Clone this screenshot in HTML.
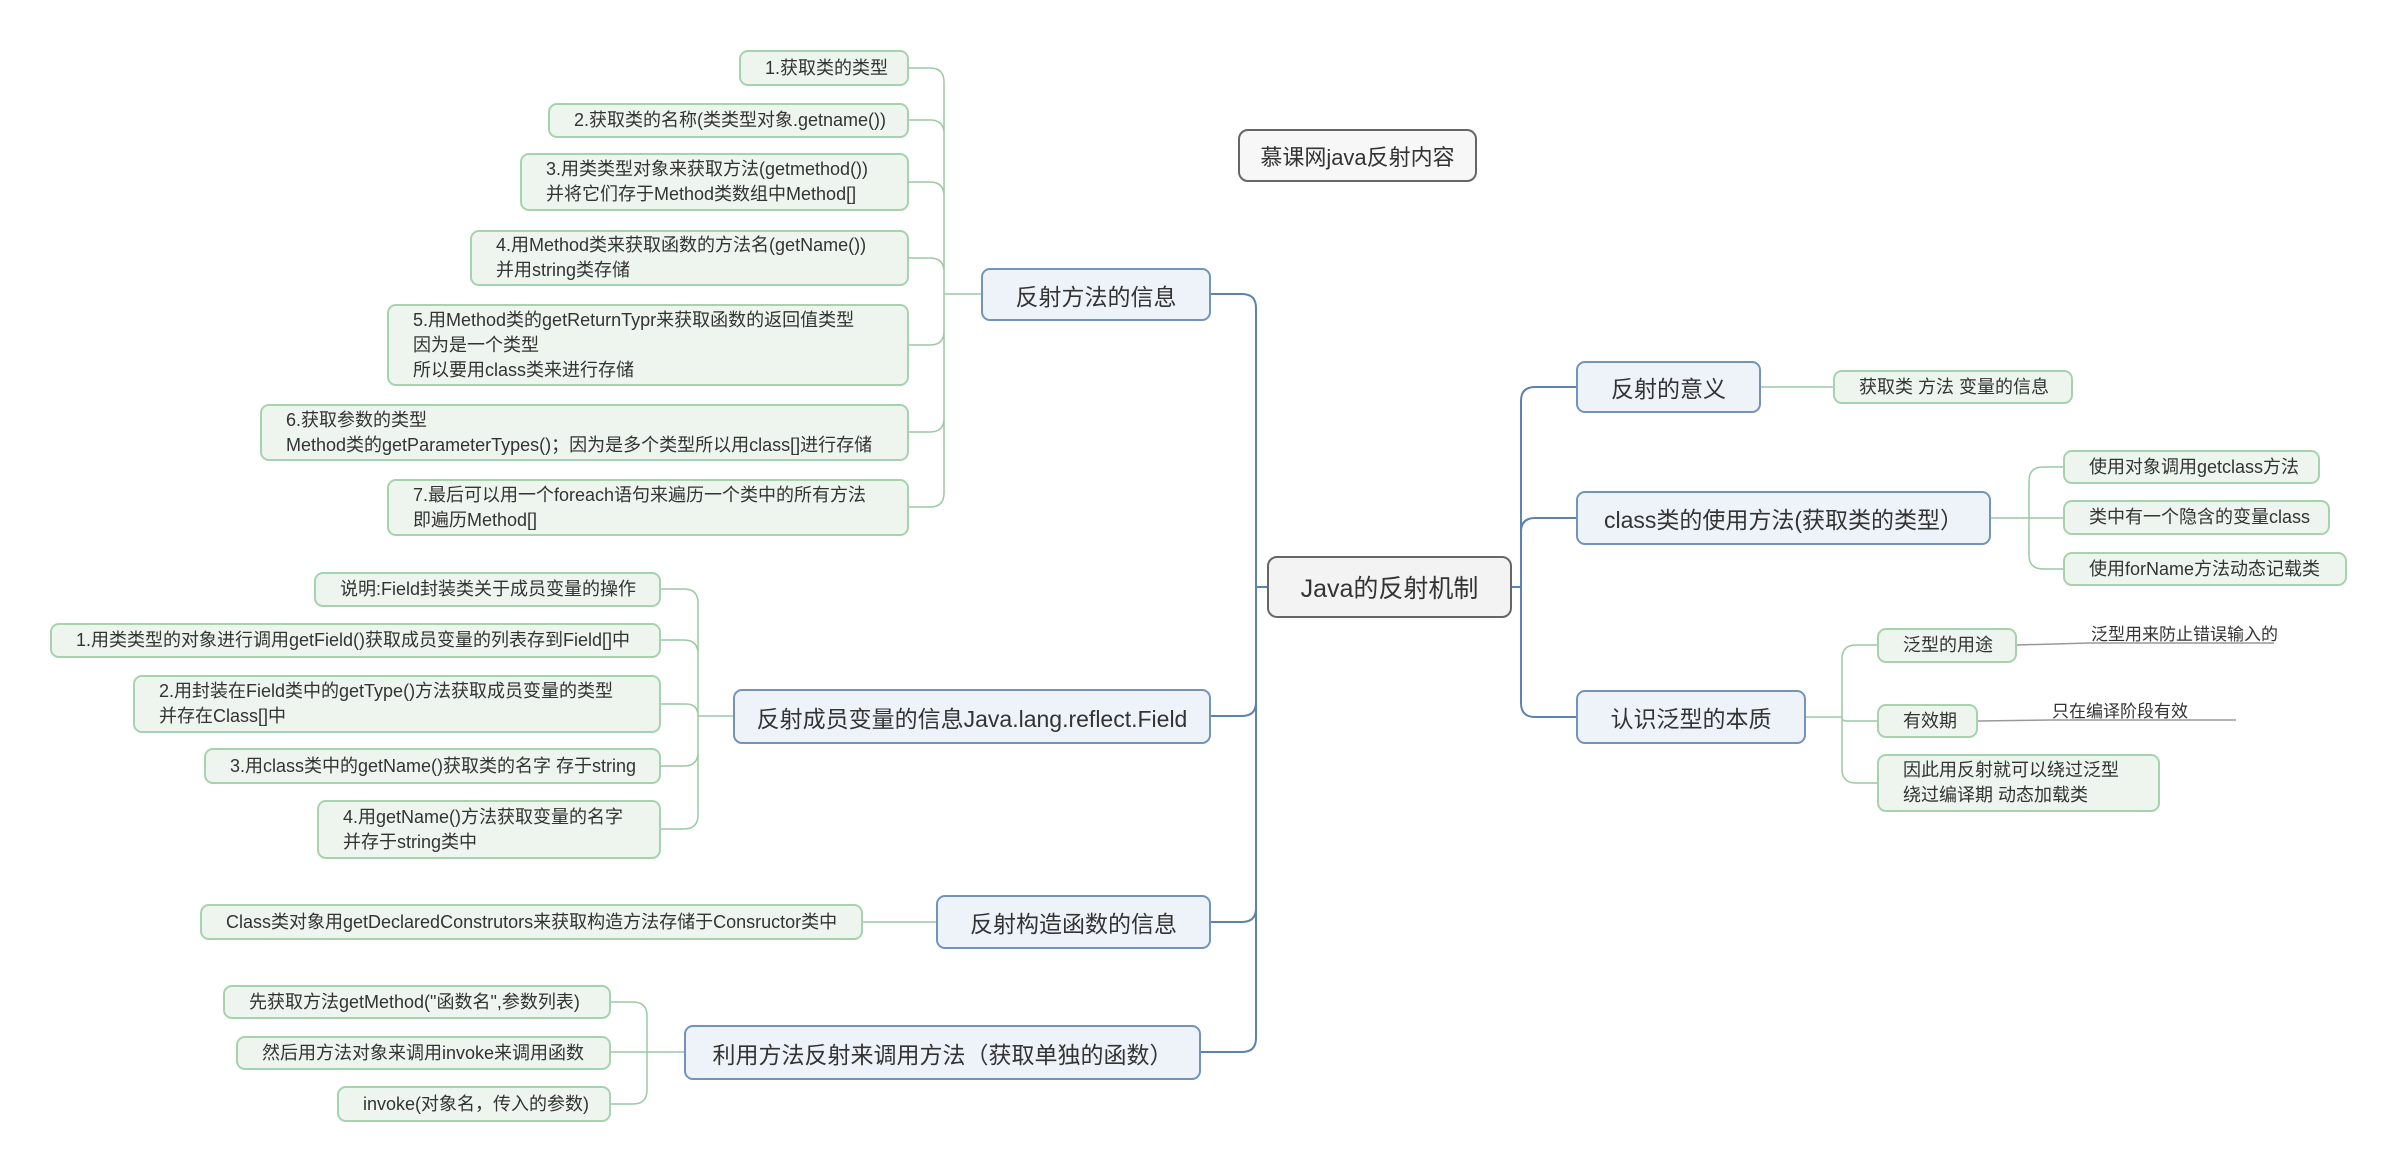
<!DOCTYPE html>
<html><head><meta charset="utf-8">
<style>
body{margin:0;width:2400px;height:1173px;background:#fff;position:relative;overflow:hidden;font-family:"Liberation Sans","Noto Sans CJK SC",sans-serif;color:#333}
.n{position:absolute;box-sizing:border-box;display:flex;flex-direction:column;justify-content:center;white-space:nowrap}
.leaf{background:#edf5ee;border:2px solid #a6d3ae;border-radius:9px;font-size:18px;line-height:25px;padding-left:24px}
.main{background:#eef3fa;border:2px solid #7393bb;border-radius:9px;font-size:23px;align-items:center}
.root{background:#f3f3f3;border:2px solid #666;border-radius:10px;font-size:25px;align-items:center}
.lab{position:absolute;font-size:17px;white-space:nowrap}
svg{position:absolute;left:0;top:0}
</style></head><body>
<svg id="s" width="2400" height="1173"></svg>

<div class="n root" style="left:1267px;top:556px;width:245px;height:62px">Java的反射机制</div>
<div class="n root" style="left:1238px;top:129px;width:239px;height:53px;font-size:22px;background:#f7f7f7">慕课网java反射内容</div>

<div class="n main" style="left:981px;top:268px;width:230px;height:53px">反射方法的信息</div>
<div class="n main" style="left:733px;top:689px;width:478px;height:55px">反射成员变量的信息Java.lang.reflect.Field</div>
<div class="n main" style="left:936px;top:895px;width:275px;height:54px">反射构造函数的信息</div>
<div class="n main" style="left:684px;top:1025px;width:517px;height:55px">利用方法反射来调用方法（获取单独的函数）</div>

<div class="n leaf" style="left:739px;top:50px;width:170px;height:36px">1.获取类的类型</div>
<div class="n leaf" style="left:548px;top:103px;width:361px;height:35px">2.获取类的名称(类类型对象.getname())</div>
<div class="n leaf" style="left:520px;top:153px;width:389px;height:58px">3.用类类型对象来获取方法(getmethod())<br>并将它们存于Method类数组中Method[]</div>
<div class="n leaf" style="left:470px;top:230px;width:439px;height:56px">4.用Method类来获取函数的方法名(getName())<br>并用string类存储</div>
<div class="n leaf" style="left:387px;top:304px;width:522px;height:82px">5.用Method类的getReturnTypr来获取函数的返回值类型<br>因为是一个类型<br>所以要用class类来进行存储</div>
<div class="n leaf" style="left:260px;top:404px;width:649px;height:57px">6.获取参数的类型<br>Method类的getParameterTypes()；因为是多个类型所以用class[]进行存储</div>
<div class="n leaf" style="left:387px;top:479px;width:522px;height:57px">7.最后可以用一个foreach语句来遍历一个类中的所有方法<br>即遍历Method[]</div>

<div class="n leaf" style="left:314px;top:572px;width:347px;height:35px">说明:Field封装类关于成员变量的操作</div>
<div class="n leaf" style="left:50px;top:623px;width:611px;height:35px">1.用类类型的对象进行调用getField()获取成员变量的列表存到Field[]中</div>
<div class="n leaf" style="left:133px;top:675px;width:528px;height:58px">2.用封装在Field类中的getType()方法获取成员变量的类型<br>并存在Class[]中</div>
<div class="n leaf" style="left:204px;top:748px;width:457px;height:36px">3.用class类中的getName()获取类的名字 存于string</div>
<div class="n leaf" style="left:317px;top:800px;width:344px;height:59px">4.用getName()方法获取变量的名字<br>并存于string类中</div>

<div class="n leaf" style="left:200px;top:904px;width:663px;height:36px">Class类对象用getDeclaredConstrutors来获取构造方法存储于Consructor类中</div>

<div class="n leaf" style="left:223px;top:985px;width:388px;height:34px">先获取方法getMethod("函数名",参数列表)</div>
<div class="n leaf" style="left:236px;top:1036px;width:375px;height:34px">然后用方法对象来调用invoke来调用函数</div>
<div class="n leaf" style="left:337px;top:1086px;width:274px;height:36px">invoke(对象名，传入的参数)</div>

<div class="n main" style="left:1576px;top:361px;width:185px;height:52px">反射的意义</div>
<div class="n main" style="left:1576px;top:491px;width:415px;height:54px">class类的使用方法(获取类的类型）</div>
<div class="n main" style="left:1576px;top:690px;width:230px;height:54px">认识泛型的本质</div>

<div class="n leaf" style="left:1833px;top:370px;width:240px;height:34px">获取类 方法 变量的信息</div>
<div class="n leaf" style="left:2063px;top:450px;width:257px;height:34px">使用对象调用getclass方法</div>
<div class="n leaf" style="left:2063px;top:500px;width:267px;height:35px">类中有一个隐含的变量class</div>
<div class="n leaf" style="left:2063px;top:552px;width:284px;height:34px">使用forName方法动态记载类</div>
<div class="n leaf" style="left:1877px;top:628px;width:140px;height:35px">泛型的用途</div>
<div class="n leaf" style="left:1877px;top:704px;width:101px;height:34px">有效期</div>
<div class="n leaf" style="left:1877px;top:754px;width:283px;height:58px">因此用反射就可以绕过泛型<br>绕过编译期 动态加载类</div>

<div class="lab" style="left:2091px;top:620px">泛型用来防止错误输入的</div>
<div class="lab" style="left:2052px;top:697px">只在编译阶段有效</div>

<script>
var s=document.getElementById('s'),h='';
function L(px,py,tx,ys,cxs,col,w){
 var d='M'+px+' '+py+' H'+tx;
 ys.forEach(function(cy,i){
  var cx=Array.isArray(cxs)?cxs[i]:cxs;
  var dir=cx>tx?1:-1,r=Math.min(14,Math.abs(cy-py));
  if(Math.abs(cy-py)<2){d+=' M'+tx+' '+py+' H'+cx;return;}
  var sg=cy>py?1:-1;
  d+=' M'+tx+' '+py+' V'+(cy-sg*r)+' Q'+tx+' '+cy+' '+(tx+dir*r)+' '+cy+' H'+cx;
 });
 h+='<path d="'+d+'" fill="none" stroke="'+col+'" stroke-width="'+w+'"/>';
}
var B='#5b82b0',G='#9ccaa5';
L(1267,587,1256,[294,716,922,1052],[1211,1211,1211,1201],B,2);
L(1512,587,1521,[387,518,717],1576,B,2);
L(981,294,944,[68,120,182,258,345,432,507],909,G,1.5);
L(733,716,698,[589,640,704,766,829],661,G,1.5);
L(936,922,900,[922],863,G,1.5);
L(684,1052,647,[1002,1053,1104],611,G,1.5);
L(1761,387,1797,[387],1833,G,1.5);
L(1991,518,2029,[467,518,569],2063,G,1.5);
L(1806,717,1842,[645,721,783],1877,G,1.5);
h+='<path d="M2017 645 L2090 643 H2274 M1978 721 L2052 720 H2236" fill="none" stroke="#999" stroke-width="1.5"/>';
s.innerHTML=h;
</script>
</body></html>
